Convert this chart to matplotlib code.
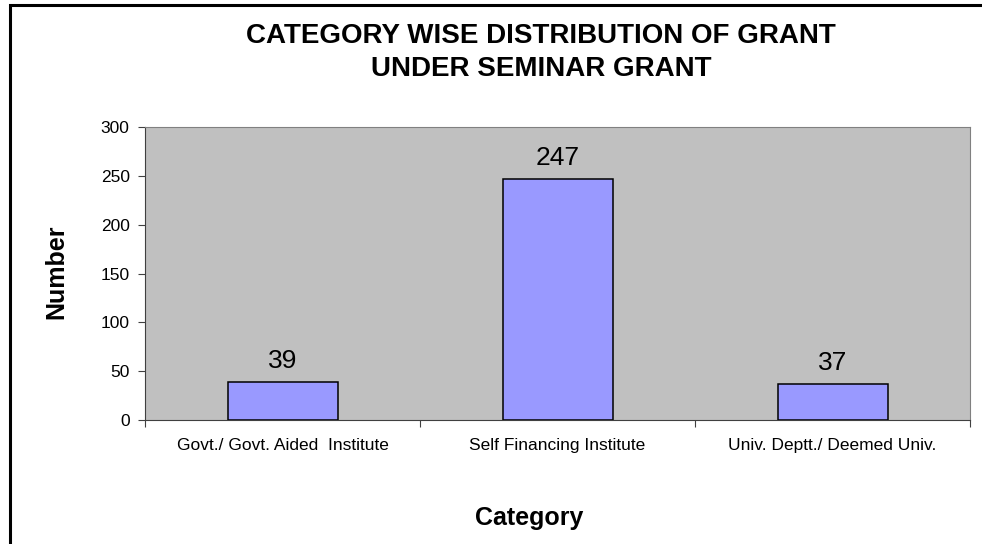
"""Category wise distribution of seminar grant"""
import matplotlib
matplotlib.use('Agg')
import matplotlib.pyplot as plt
from matplotlib.patches import Rectangle

plt.rcParams['font.family'] = ['Liberation Sans', 'DejaVu Sans']

# data
categories = ['Govt./ Govt. Aided  Institute', 'Self Financing Institute',
              'Univ. Deptt./ Deemed Univ.']
counts = [39, 247, 37]
yticks = [0, 50, 100, 150, 200, 250, 300]

W, H = 982, 544
fig = plt.figure(figsize=(W/100, H/100), dpi=100)
ax = fig.add_axes([145/W, 1-420/H, 825/W, 293/H])
ax.set_facecolor('#C0C0C0')

xpos = list(range(len(categories)))
ax.bar(xpos, counts, width=0.4, color='#9999FF', edgecolor='black', linewidth=1.1)
for x, v in zip(xpos, counts):
    ax.annotate(str(v), (x, v), xytext=(0, 10), textcoords='offset points',
                ha='center', va='baseline', fontsize=19)

ax.set_xlim(-0.5, 2.5)
ax.set_ylim(0, 300)
ax.set_yticks(yticks)
ax.set_yticklabels([str(t) for t in yticks], fontsize=12.5)
ax.set_xticks([-0.5, 0.5, 1.5, 2.5])
ax.set_xticklabels([])
ax.set_xticks(xpos, minor=True)
ax.set_xticklabels(categories, minor=True, fontsize=12.5)
ax.tick_params(axis='x', which='minor', length=0, pad=13)
ax.tick_params(axis='x', which='major', length=5, color='#404040')
ax.tick_params(axis='y', length=5, color='#404040', pad=6)
for side in ['top', 'right']:
    ax.spines[side].set_color('#808080')
for side in ['left', 'bottom']:
    ax.spines[side].set_color('#404040')

fig.text(541/W, 1-43/H, 'CATEGORY WISE DISTRIBUTION OF GRANT', ha='center', va='baseline',
         fontsize=20, fontweight='bold')
fig.text(541/W, 1-76/H, 'UNDER SEMINAR GRANT', ha='center', va='baseline',
         fontsize=20, fontweight='bold')
fig.text(529/W, 1-525/H, 'Category', ha='center', va='baseline', fontsize=18, fontweight='bold')
fig.text(56/W, 1-272/H, 'Number', ha='center', va='center', rotation=90, fontsize=18,
         fontweight='bold')

# outer frame (cropped at right and bottom)
fig.patches.append(Rectangle((10/W, -0.1), 1.2, 1 - 5/H + 0.1, transform=fig.transFigure,
                             fill=False, edgecolor='black', linewidth=2.2, clip_on=False))

fig.savefig('out.png', dpi=100)
